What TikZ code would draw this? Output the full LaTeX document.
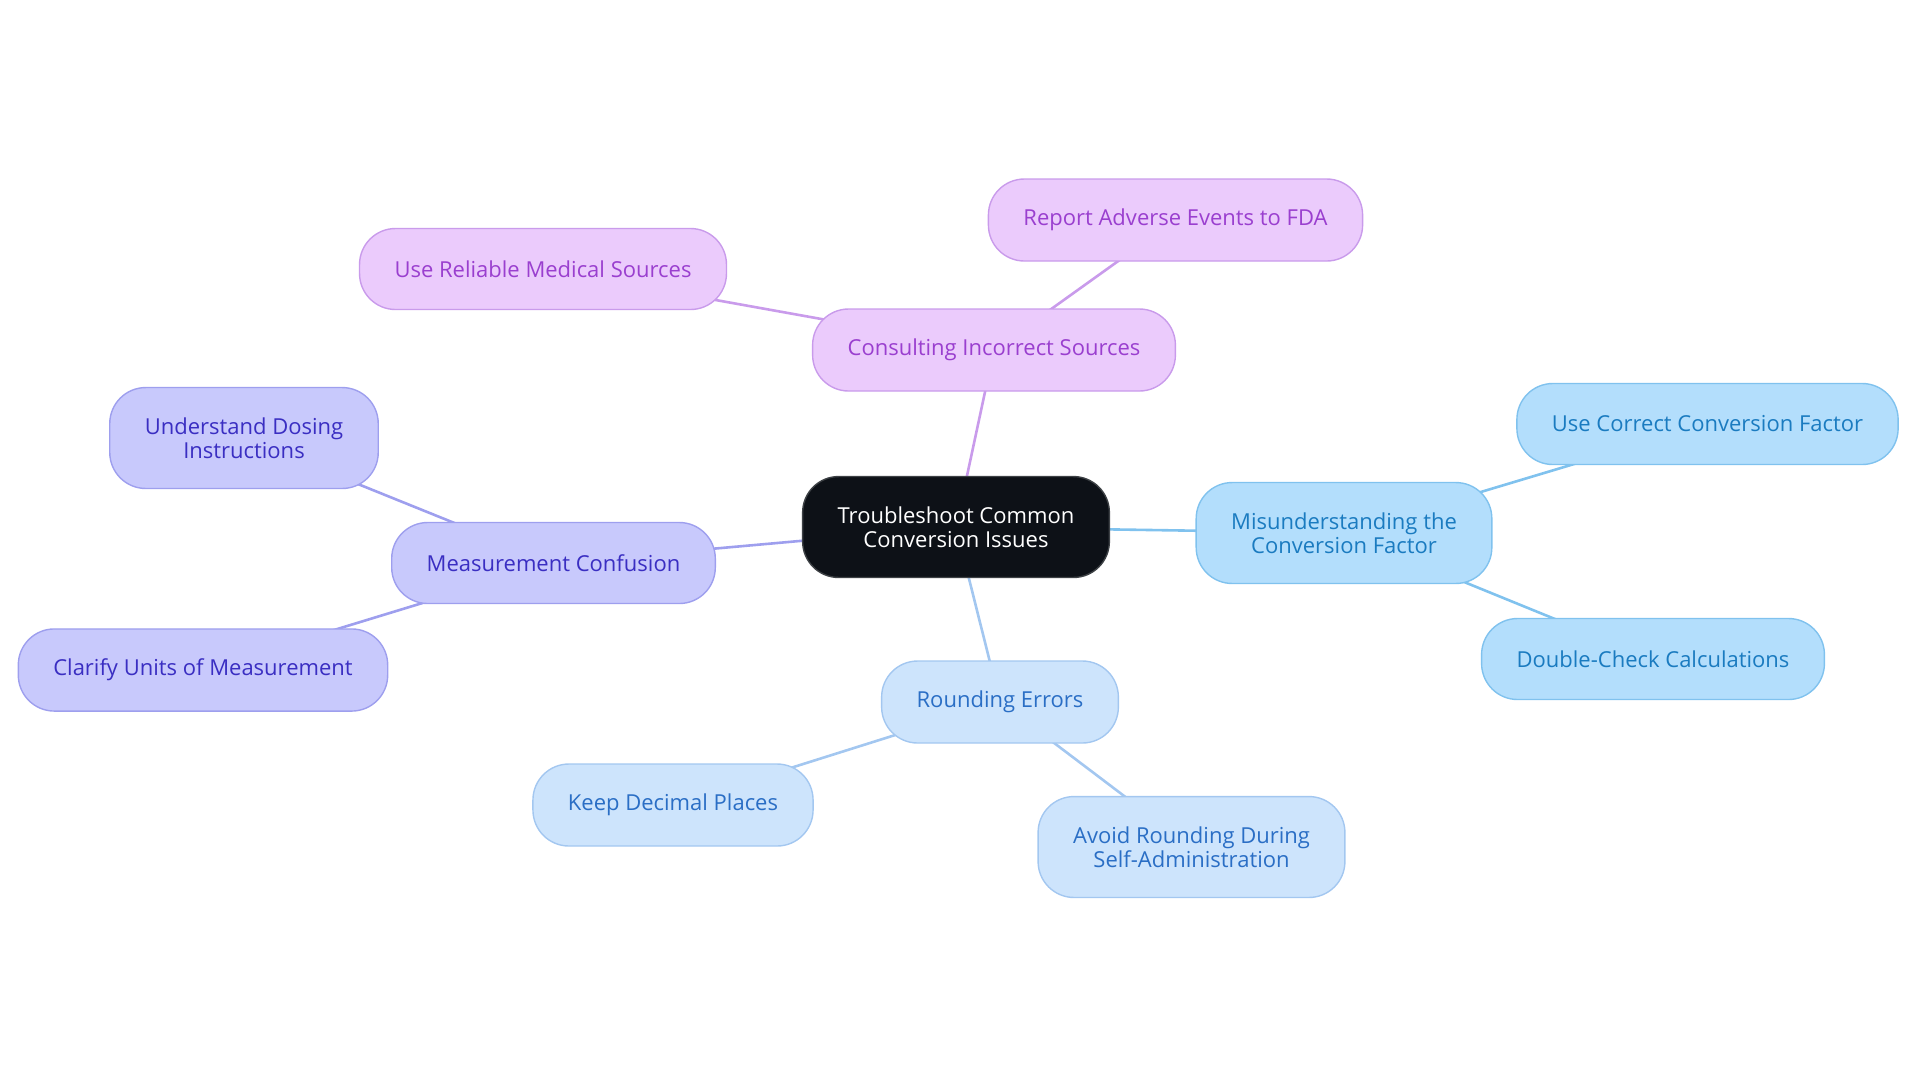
\documentclass[tikz,border=0pt]{standalone}
\usepackage{fontspec}
\setmainfont{Open Sans}
\usepackage{tikz}
\usetikzlibrary{backgrounds}
\usepackage{color}

\definecolor{hubfill}{HTML}{0D1117}
\definecolor{purfill}{HTML}{EBCBFC}
\definecolor{purline}{HTML}{C99BEB}
\definecolor{purtext}{HTML}{9A3FCF}
\definecolor{lavfill}{HTML}{C8C9FC}
\definecolor{lavline}{HTML}{9E9FEE}
\definecolor{lavtext}{HTML}{3A2EC2}
\definecolor{skyfill}{HTML}{B3DEFC}
\definecolor{skyline}{HTML}{80C2EE}
\definecolor{skytext}{HTML}{1A7BC0}
\definecolor{palefill}{HTML}{CDE4FC}
\definecolor{paleline}{HTML}{A3C7F0}
\definecolor{paletext}{HTML}{2A6EC5}

\begin{document}
\begin{tikzpicture}[x=0.5pt,y=-0.5pt,
  box/.style={rounded corners=18pt,line width=0.7pt,align=center,
    inner xsep=17.5pt,inner ysep=15pt,minimum height=40.5pt,
    font=\fontsize{11}{12}\selectfont},
  hub/.style={box,fill=hubfill,draw=hubfill!80!white,text=white},
  purbox/.style={box,fill=purfill,draw=purline,text=purtext},
  lavbox/.style={box,fill=lavfill,draw=lavline,text=lavtext},
  skybox/.style={box,fill=skyfill,draw=skyline,text=skytext},
  palebox/.style={box,fill=palefill,draw=paleline,text=paletext},
  link/.style={line width=1.3pt}]
\useasboundingbox (0,0) rectangle (1920,1083);

\node[hub] (root) at (956,527) {Troubleshoot Common\\Conversion Issues};

\node[purbox] (consult) at (994,350) {Consulting Incorrect Sources};
\node[purbox] (report) at (1175.5,220) {Report Adverse Events to FDA};
\node[purbox] (reliable) at (543,269) {Use Reliable Medical Sources};

\node[lavbox] (measure) at (553.5,563) {Measurement Confusion};
\node[lavbox] (dosing) at (244,438) {Understand Dosing\\Instructions};
\node[lavbox] (units) at (203,670) {Clarify Units of Measurement};

\node[skybox] (factor) at (1344,533) {Misunderstanding the\\Conversion Factor};
\node[skybox] (correct) at (1707.5,424) {Use Correct Conversion Factor};
\node[skybox] (check) at (1653,659) {Double-Check Calculations};

\node[palebox] (rounding) at (1000,702) {Rounding Errors};
\node[palebox] (decimal) at (673,805) {Keep Decimal Places};
\node[palebox] (selfadmin) at (1191.5,847) {Avoid Rounding During\\Self-Administration};

% links run centre to centre, under the boxes
\begin{scope}[on background layer]
\draw[link,purline] (root.center) -- (consult.center);
\draw[link,purline] (consult.center) -- (report.center);
\draw[link,purline] (consult.center) -- (reliable.center);

\draw[link,lavline] (root.center) -- (measure.center);
\draw[link,lavline] (measure.center) -- (dosing.center);
\draw[link,lavline] (measure.center) -- (units.center);

\draw[link,skyline] (root.center) -- (factor.center);
\draw[link,skyline] (factor.center) -- (correct.center);
\draw[link,skyline] (factor.center) -- (check.center);

\draw[link,paleline] (root.center) -- (rounding.center);
\draw[link,paleline] (rounding.center) -- (decimal.center);
\draw[link,paleline] (rounding.center) -- (selfadmin.center);
\end{scope}
\end{tikzpicture}
\end{document}
